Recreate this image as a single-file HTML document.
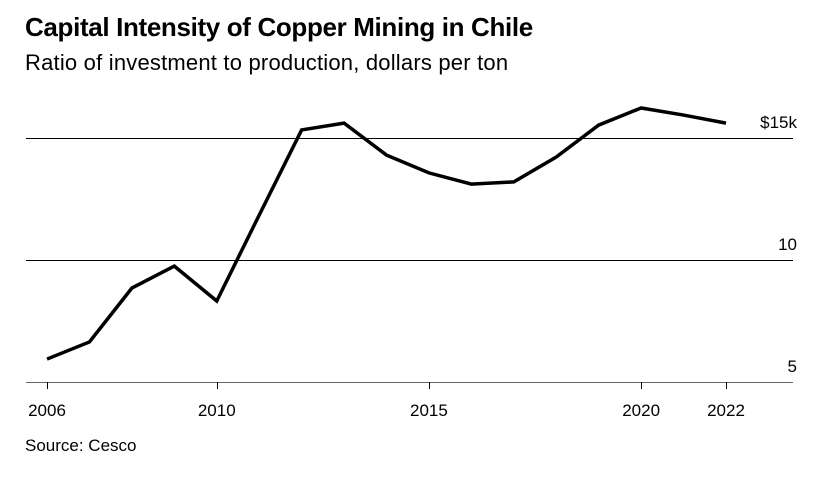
<!DOCTYPE html>
<html><head><meta charset="utf-8"><style>
body{margin:0;background:#fff;font-family:"Liberation Sans",Arial,sans-serif;}
#wrap{position:relative;width:830px;height:481px;overflow:hidden;}
.t{position:absolute;left:25px;top:12px;font-size:26px;font-weight:bold;color:#000;letter-spacing:-0.35px}
.s{position:absolute;left:25px;top:50px;font-size:22px;color:#000;letter-spacing:0.2px}
.src{position:absolute;left:25px;top:436px;font-size:17px;color:#000}
</style></head><body>
<div id="wrap">
<div class="t">Capital Intensity of Copper Mining in Chile</div>
<div class="s">Ratio of investment to production, dollars per ton</div>
<svg id="svg" width="830" height="481" style="position:absolute;left:0;top:0"></svg>
<div class="src">Source: Cesco</div>
</div>
<script>
const years=[2006,2007,2008,2009,2010,2011,2012,2013,2014,2015,2016,2017,2018,2019,2020,2021,2022];
const values=[5.94,6.64,8.85,9.75,8.32,11.84,15.33,15.61,14.3,13.57,13.11,13.2,14.22,15.53,16.23,15.94,15.61];
const yTicks=[5,10,15];
const yTickLabels=["5","10","$15k"];
const xTicks=[2006,2010,2015,2020,2022];
const NS="http://www.w3.org/2000/svg";
const svg=document.getElementById('svg');
function x(v){return 47+(v-2006)*(726-47)/16;}
function y(v){return 382-(v-5)*(382-138)/10;}
function mk(tag,attrs){const e=document.createElementNS(NS,tag);for(const k in attrs)e.setAttribute(k,attrs[k]);svg.appendChild(e);return e;}
yTicks.forEach((t,i)=>{
  const yy=Math.round(y(t))+0.5;
  const l=mk('line',{x1:26,x2:793,y1:yy,y2:yy,stroke:i===0?'#666':'#000','stroke-width':1});
  
  
  const tx=mk('text',{x:797,y:y(t)-10,'text-anchor':'end','font-size':17,'font-family':'Liberation Sans, Arial, sans-serif',fill:'#000'});
  tx.textContent=yTickLabels[i];
  
  
});
xTicks.forEach(t=>{
  const xx=Math.round(x(t))+0.5;
  const l=mk('line',{x1:xx,x2:xx,y1:382,y2:389,stroke:'#000','stroke-width':1});
  
  
  const tx=mk('text',{x:x(t),y:416,'text-anchor':'middle','font-size':17,'font-family':'Liberation Sans, Arial, sans-serif',fill:'#000'});
  tx.textContent=t;
  
  
});
const p=mk('polyline',{points:years.map((yr,i)=>x(yr)+','+y(values[i])).join(' '),fill:'none',stroke:'#000','stroke-width':3.5,'stroke-linejoin':'miter'});


</script>
</body></html>
